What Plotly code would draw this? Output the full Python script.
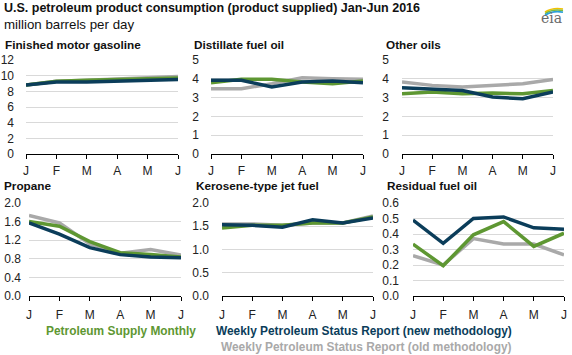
import plotly.graph_objects as go

W, H = 572, 355

months = ["J", "F", "M", "A", "M", "J"]
panel_titles = ["Finished motor gasoline", "Distillate fuel oil", "Other oils",
                "Propane", "Kerosene-type jet fuel", "Residual fuel oil"]

# Petroleum Supply Monthly
psm_gasoline = [8.8, 9.3, 9.4, 9.5, 9.6, 9.7]
psm_distillate = [3.79, 3.97, 3.97, 3.83, 3.74, 3.88]
psm_other = [3.2, 3.3, 3.21, 3.25, 3.2, 3.38]
psm_propane = [1.6, 1.5, 1.17, 0.93, 0.89, 0.84]
psm_kerosene = [1.46, 1.52, 1.52, 1.57, 1.57, 1.70]
psm_residual = [0.335, 0.195, 0.395, 0.48, 0.32, 0.405]

# Weekly Petroleum Status Report (new methodology)
new_gasoline = [8.8, 9.2, 9.2, 9.3, 9.4, 9.5]
new_distillate = [3.92, 3.92, 3.57, 3.83, 3.88, 3.79]
new_other = [3.52, 3.43, 3.38, 3.03, 2.94, 3.30]
new_propane = [1.57, 1.33, 1.04, 0.89, 0.84, 0.82]
new_kerosene = [1.53, 1.52, 1.48, 1.64, 1.57, 1.68]
new_residual = [0.49, 0.34, 0.50, 0.51, 0.44, 0.43]

# Weekly Petroleum Status Report (old methodology)
old_gasoline = [8.8, 9.3, 9.4, 9.6, 9.8, 9.9]
old_distillate = [3.47, 3.47, 3.74, 4.06, 4.0, 3.97]
old_other = [3.83, 3.65, 3.56, 3.65, 3.74, 3.97]
old_propane = [1.73, 1.57, 1.12, 0.92, 1.0, 0.88]
old_kerosene = [1.55, 1.55, 1.52, 1.57, 1.57, 1.72]
old_residual = [0.26, 0.20, 0.37, 0.335, 0.335, 0.265]

y_max = [12, 5, 5, 2.0, 2.0, 0.6]
y_dtick = [2, 1, 1, 0.4, 0.5, 0.1]
y_fmt = ["d", "d", "d", ".1f", ".1f", ".1f"]

series_names = ["Weekly Petroleum Status Report (old methodology)",
                "Petroleum Supply Monthly",
                "Weekly Petroleum Status Report (new methodology)"]
colors = ["#A9A9A9", "#5E9732", "#0B3D5A"]
data = [
    [old_gasoline, old_distillate, old_other, old_propane, old_kerosene, old_residual],
    [psm_gasoline, psm_distillate, psm_other, psm_propane, psm_kerosene, psm_residual],
    [new_gasoline, new_distillate, new_other, new_propane, new_kerosene, new_residual],
]

# pixel layout of each plot area: (left, right, bottom, top)
boxes = [
    (26, 178, 154, 60), (211, 363, 154, 60), (402, 553, 154, 60),
    (29, 181, 296, 203), (222, 373, 296, 203), (413, 564, 296, 203),
]
label_gap = [11, 11, 12, 7, 12, 13]
x_label_gap = [2, 2, 2, 4, 4, 4]
title_pos = [(4, 44), (193, 44), (385, 44), (3, 185), (195, 185), (386, 185)]

FONT = "Liberation Sans, Arial, sans-serif"
fig = go.Figure()
x_idx = list(range(len(months)))

layout = dict(width=W, height=H,
              margin=dict(l=0, r=0, t=0, b=0, pad=0, autoexpand=False),
              plot_bgcolor="white", paper_bgcolor="white", showlegend=False,
              font=dict(family=FONT, size=12, color="#222"))
annotations = []

for p in range(6):
    n = p + 1
    xa = "x" if n == 1 else f"x{n}"
    ya = "y" if n == 1 else f"y{n}"
    for s in range(3):
        fig.add_trace(go.Scatter(x=x_idx, y=data[s][p], mode="lines",
                                 line=dict(color=colors[s], width=3.5),
                                 name=series_names[s], xaxis=xa, yaxis=ya,
                                 hoverinfo="skip"))
    l, r, b, t = boxes[p]
    layout["xaxis" if n == 1 else f"xaxis{n}"] = dict(
        domain=[l / W, r / W], range=[0, 5], anchor=ya,
        tickmode="array", tickvals=x_idx, ticktext=months,
        showgrid=False, zeroline=False, showline=True, linecolor="#000",
        linewidth=1, ticks="outside", ticklen=4, tickcolor="#000",
        ticklabelstandoff=x_label_gap[p], automargin=False,
        tickfont=dict(family=FONT, size=12, color="#222"), fixedrange=True)
    layout["yaxis" if n == 1 else f"yaxis{n}"] = dict(
        domain=[1 - b / H, 1 - t / H], range=[0, y_max[p]], anchor=xa,
        dtick=y_dtick[p], tick0=0, tickformat=y_fmt[p],
        showgrid=True, gridcolor="#D9D9D9", gridwidth=1, zeroline=False,
        showline=False, ticks="", ticklabelstandoff=label_gap[p], automargin=False,
        tickfont=dict(family=FONT, size=12, color="#222"), fixedrange=True)
    tx, ty = title_pos[p]
    annotations.append(dict(text="<b>" + panel_titles[p] + "</b>", x=tx / W, y=1 - ty / H,
                            xref="paper", yref="paper", xanchor="left", yanchor="middle",
                            showarrow=False, borderpad=0,
                            font=dict(family=FONT, size=11.75, color="#111")))

annotations += [
    dict(text="<b>U.S. petroleum product consumption (product supplied) Jan-Jun 2016</b>",
         x=3 / W, y=1 - 8.5 / H, xref="paper", yref="paper", xanchor="left", yanchor="middle",
         showarrow=False, borderpad=0, font=dict(family=FONT, size=12.5, color="#111")),
    dict(text="million barrels per day", x=3 / W, y=1 - 24 / H, xref="paper", yref="paper",
         xanchor="left", yanchor="middle", showarrow=False, borderpad=0,
         font=dict(family=FONT, size=13.3, color="#111")),
    dict(text="<b>" + series_names[1] + "</b>", x=45 / W, y=1 - 331 / H, xref="paper",
         yref="paper", xanchor="left", yanchor="middle", showarrow=False, borderpad=0,
         font=dict(family=FONT, size=11.9, color=colors[1])),
    dict(text="<b>" + series_names[2] + "</b>", x=513 / W, y=1 - 331 / H, xref="paper",
         yref="paper", xanchor="right", yanchor="middle", showarrow=False, borderpad=0,
         font=dict(family=FONT, size=11.9, color=colors[2])),
    dict(text="<b>" + series_names[0] + "</b>", x=513 / W, y=1 - 347 / H, xref="paper",
         yref="paper", xanchor="right", yanchor="middle", showarrow=False, borderpad=0,
         font=dict(family=FONT, size=11.9, color=colors[0])),
    dict(text="eia", x=551 / W, y=1 - 18 / H, xref="paper", yref="paper",
         xanchor="center", yanchor="middle", showarrow=False, borderpad=0,
         font=dict(family="DejaVu Serif, Liberation Serif, serif", size=14, color="#6b6b6b")),
]

shapes = []
arc_cols = ["#F2C200", "#7DBA3C", "#2AA0D8"]
for i, c in enumerate(arc_cols):
    y0 = 10 + i * 1.6
    shapes.append(dict(type="path", xref="paper", yref="paper",
                       path=f"M {545/W} {1-(y0+2)/H} Q {553/W} {1-(y0-3)/H} {563/W} {1-(y0-1)/H}",
                       line=dict(color=c, width=1.6)))

layout["annotations"] = annotations
layout["shapes"] = shapes
fig.update_layout(**layout)
fig.write_html("out.html", config={"displayModeBar": False, "staticPlot": True},
               post_script="document.body.style.margin='0';document.body.style.overflow='hidden';")
